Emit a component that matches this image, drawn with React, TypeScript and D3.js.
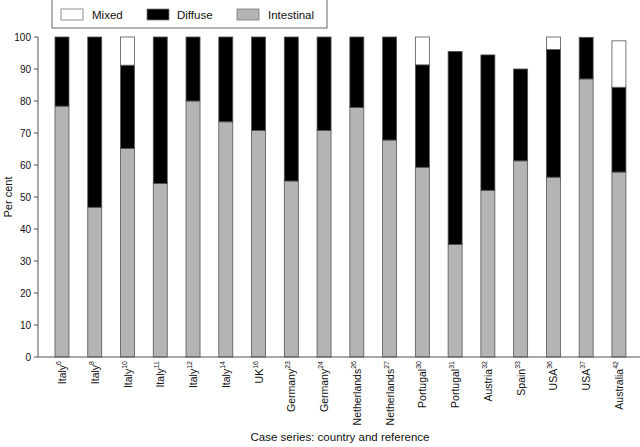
import React from 'react';
import * as d3 from 'd3';

// case series labels
const countries = ['Italy', 'Italy', 'Italy', 'Italy', 'Italy', 'Italy', 'UK', 'Germany', 'Germany',
  'Netherlands', 'Netherlands', 'Portugal', 'Portugal', 'Austria', 'Spain', 'USA', 'USA', 'Australia'];
const refs = ['6', '8', '10', '11', '12', '14', '16', '23', '24', '26', '27', '30', '31', '32', '33', '36', '37', '42'];

// per cent of cases in each type
const intestinal = [78.4, 46.8, 65.2, 54.2, 80, 73.5, 70.8, 55, 70.8, 78, 67.8, 59.3, 35.2, 52.1, 61.3, 56.2, 86.9, 57.8];
const diffuse = [21.6, 53.2, 26.0, 45.8, 20, 26.5, 29.2, 45, 29.2, 22, 32.2, 32.0, 60.3, 42.3, 28.7, 39.9, 13.0, 26.5];
const mixed = [0, 0, 8.8, 0, 0, 0, 0, 0, 0, 0, 0, 8.7, 0, 0, 0, 3.9, 0, 14.5];

const yTicks = [0, 10, 20, 30, 40, 50, 60, 70, 80, 90, 100];

const keys = ['intestinal', 'diffuse', 'mixed'];
const colors = { intestinal: '#b3b5b3', diffuse: '#000000', mixed: '#ffffff' };
const legendItems = [
  { key: 'mixed', label: 'Mixed', x: 61, tx: 92 },
  { key: 'diffuse', label: 'Diffuse', x: 147, tx: 177 },
  { key: 'intestinal', label: 'Intestinal', x: 237, tx: 268 },
];

const width = 640;
const height = 447;
const font = '"Liberation Sans", Arial, sans-serif';

const App = () => {
  const rows = countries.map((c, i) => ({
    id: String(i),
    intestinal: intestinal[i],
    diffuse: diffuse[i],
    mixed: mixed[i],
  }));

  const x = d3.scaleBand()
    .domain(rows.map((d) => d.id))
    .range([45.6, 635.3])
    .paddingInner(0.573)
    .paddingOuter(0.2865);

  const y = d3.scaleLinear().domain([0, 100]).range([357, 37]);

  const series = d3.stack().keys(keys)(rows);

  return (
    <svg width={width} height={height} style={{ position: 'absolute', left: 0, top: 0, background: '#fff' }}
      fontFamily={font}>
      {/* legend */}
      <rect x={52} y={-1} width={275} height={29} fill="#fff" stroke="#666" />
      {legendItems.map((l) => (
        <g key={l.key}>
          <rect x={l.x} y={9} width={22} height={11} fill={colors[l.key]} stroke="#777" strokeWidth={0.8} />
          <text x={l.tx} y={19} fontSize={11.5} fill="#111">{l.label}</text>
        </g>
      ))}

      {/* bars */}
      {series.map((s) => (
        <g key={s.key}>
          {s.map((d, i) => (d[1] - d[0] > 0 ? (
            <rect
              key={i}
              x={x(String(i))}
              y={y(d[1])}
              width={x.bandwidth()}
              height={y(d[0]) - y(d[1])}
              fill={colors[s.key]}
              stroke="#555"
              strokeWidth={0.8}
            />
          ) : null))}
        </g>
      ))}

      {/* y axis */}
      <line x1={38} x2={38} y1={37} y2={357} stroke="#555" />
      {yTicks.map((t) => (
        <g key={t}>
          <line x1={34} x2={38} y1={y(t)} y2={y(t)} stroke="#555" />
          <text x={31} y={y(t)} dy="0.35em" textAnchor="end" fontSize={10} fill="#111">{t}</text>
        </g>
      ))}
      <text transform={`translate(12, ${y(50)}) rotate(-90)`} textAnchor="middle" fontSize={11} fill="#111">Per cent</text>

      {/* x axis */}
      <line x1={38} x2={640} y1={357} y2={357} stroke="#555" />
      {rows.map((d, i) => (
        <text
          key={i}
          transform={`translate(${x(d.id) + x.bandwidth() / 2 + 4}, 361) rotate(-90)`}
          textAnchor="end"
          fontSize={10.5}
          fill="#111"
        >
          <tspan>{countries[i]}</tspan>
          <tspan dy={-5} fontSize={7}>{refs[i]}</tspan>
        </text>
      ))}
      <text x={340} y={441} textAnchor="middle" fontSize={11.5} fill="#111">Case series: country and reference</text>
    </svg>
  );
};

export default App;
